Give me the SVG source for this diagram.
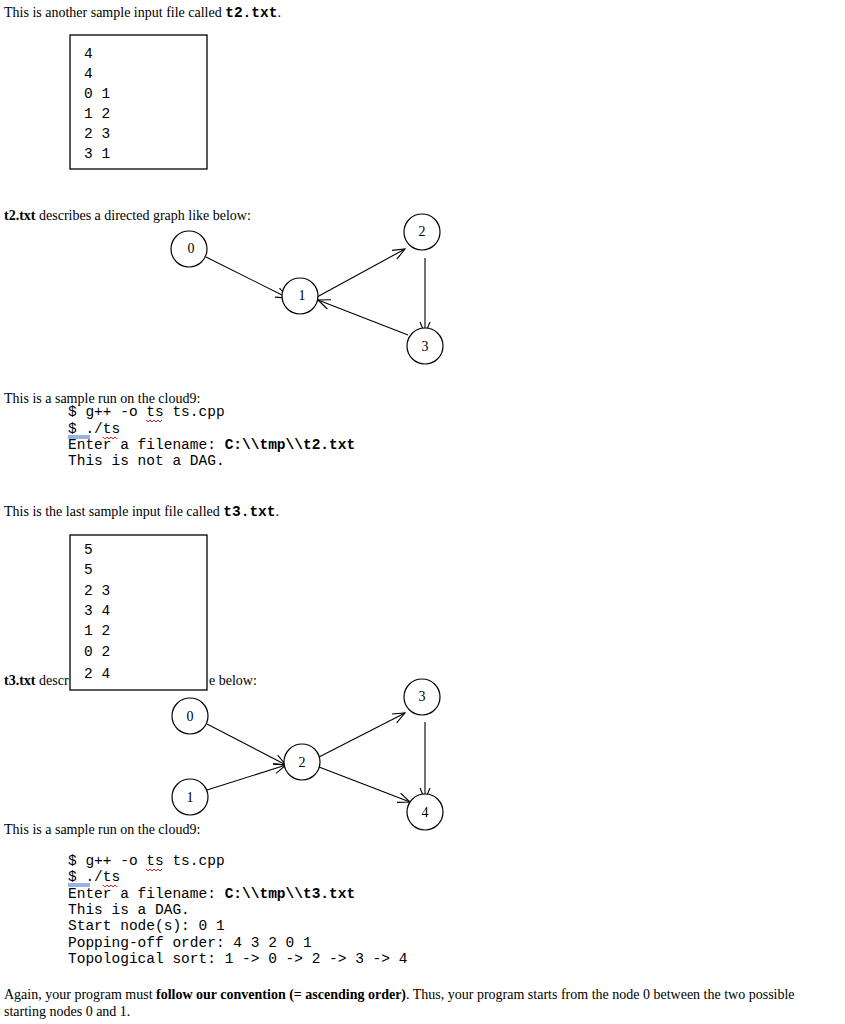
<svg xmlns="http://www.w3.org/2000/svg" width="845" height="1024" viewBox="0 0 845 1024">
<style>
.t{font-family:"Liberation Serif",serif;font-size:14px;fill:#000}
.m{font-family:"Liberation Mono",monospace;font-size:14.5px;fill:#000}
.n{font-family:"Liberation Serif",serif;font-size:14px;text-anchor:middle;fill:#000}
.b{font-weight:bold}
.box{fill:#fff;stroke:#000;stroke-width:1.3}
circle{fill:#fff;stroke:#000;stroke-width:1.2}
.e{stroke:#000;stroke-width:1.1;fill:none;marker-end:url(#a)}
.sq{stroke:#d22;fill:none;stroke-width:1}
</style>
<defs><marker id="a" markerWidth="14" markerHeight="12" refX="13" refY="6" orient="auto" markerUnits="userSpaceOnUse"><polyline points="1,1 13,6 1,11" fill="none" stroke="#000" stroke-width="1.1"/></marker></defs>
<rect width="845" height="1024" fill="#fff"/>
<text class="t" x="4" y="17">This is another sample input file called <tspan class="m b">t2.txt</tspan>.</text>
<g id="file1"><rect class="box" x="70" y="35" width="137" height="134"/>
<text class="m" x="84" y="58">4</text><text class="m" x="84" y="78">4</text><text class="m" x="84" y="98">0 1</text><text class="m" x="84" y="118">1 2</text><text class="m" x="84" y="138">2 3</text><text class="m" x="84" y="158">3 1</text></g>
<text class="t" x="4" y="220"><tspan class="b">t2.txt</tspan> describes a directed graph like below:</text>
<g id="edges1">
<line class="e" x1="206" y1="257" x2="288" y2="298"/>
<line class="e" x1="317" y1="297" x2="405" y2="249"/>
<line class="e" x1="425" y1="258" x2="425" y2="334"/>
<line class="e" x1="408" y1="335" x2="318" y2="300"/>
</g>
<g id="g1n0"><circle cx="189" cy="249" r="18"/><text class="n" x="191" y="253">0</text></g>
<g id="g1n1"><circle cx="300" cy="296" r="18"/><text class="n" x="302" y="300">1</text></g>
<g id="g1n2"><circle cx="422" cy="232" r="18"/><text class="n" x="422" y="236">2</text></g>
<g id="g1n3"><circle cx="425" cy="346" r="18"/><text class="n" x="425" y="351">3</text></g>
<text class="t" x="4" y="403">This is a sample run on the cloud9:</text>
<text class="m" x="68" y="416">$ g++ -o ts ts.cpp</text>
<path class="sq" d="M146,420 l2,2 2,-2 2,2 2,-2 2,2 2,-2 2,2 2,-2"/>
<text class="m" x="68" y="433">$ ./ts</text>
<line x1="68" y1="436" x2="90" y2="436" stroke="#36c" stroke-width="1"/><line x1="68" y1="438" x2="90" y2="438" stroke="#36c" stroke-width="1"/>
<path class="sq" d="M103,437 l2,2 2,-2 2,2 2,-2 2,2 2,-2 2,2"/>
<text class="m" x="68" y="449">Enter a filename: <tspan class="b">C:\\tmp\\t2.txt</tspan></text>
<text class="m" x="68" y="465">This is not a DAG.</text>
<text class="t" x="4" y="516">This is the last sample input file called <tspan class="m b">t3.txt</tspan>.</text>
<text class="t" x="4" y="685"><tspan class="b">t3.txt</tspan> descr</text>
<text class="t" x="209" y="685">e below:</text>
<g id="file2"><rect class="box" x="70" y="535" width="137" height="155"/>
<text class="m" x="84" y="554">5</text><text class="m" x="84" y="574">5</text><text class="m" x="84" y="595">2 3</text><text class="m" x="84" y="615">3 4</text><text class="m" x="84" y="635">1 2</text><text class="m" x="84" y="656">0 2</text><text class="m" x="84" y="678">2 4</text></g>
<g id="edges2">
<line class="e" x1="207" y1="724" x2="286" y2="765"/>
<line class="e" x1="207" y1="790" x2="286" y2="765"/>
<line class="e" x1="319" y1="757" x2="405" y2="713"/>
<line class="e" x1="319" y1="767" x2="410" y2="802"/>
<line class="e" x1="425" y1="722" x2="425" y2="800"/>
</g>
<g id="g2n0"><circle cx="190" cy="716" r="18"/><text class="n" x="190" y="721">0</text></g>
<g id="g2n1"><circle cx="190" cy="797" r="18"/><text class="n" x="190" y="802">1</text></g>
<g id="g2n2"><circle cx="302" cy="762" r="18"/><text class="n" x="302" y="767">2</text></g>
<g id="g2n3"><circle cx="422" cy="697" r="18"/><text class="n" x="422" y="701">3</text></g>
<g id="g2n4"><circle cx="425" cy="812" r="18"/><text class="n" x="425" y="817">4</text></g>
<text class="t" x="4" y="834">This is a sample run on the cloud9:</text>
<text class="m" x="68" y="865">$ g++ -o ts ts.cpp</text>
<path class="sq" d="M146,869 l2,2 2,-2 2,2 2,-2 2,2 2,-2 2,2 2,-2"/>
<text class="m" x="68" y="881">$ ./ts</text>
<line x1="68" y1="884" x2="90" y2="884" stroke="#36c" stroke-width="1"/><line x1="68" y1="886" x2="90" y2="886" stroke="#36c" stroke-width="1"/>
<path class="sq" d="M103,885 l2,2 2,-2 2,2 2,-2 2,2 2,-2 2,2"/>
<text class="m" x="68" y="898">Enter a filename: <tspan class="b">C:\\tmp\\t3.txt</tspan></text>
<text class="m" x="68" y="914">This is a DAG.</text>
<text class="m" x="68" y="930">Start node(s): 0 1</text>
<text class="m" x="68" y="947">Popping-off order: 4 3 2 0 1</text>
<text class="m" x="68" y="963">Topological sort: 1 -&gt; 0 -&gt; 2 -&gt; 3 -&gt; 4</text>
<text class="t" x="4" y="999">Again, your program must <tspan class="b">follow our convention (= ascending order)</tspan>. Thus, your program starts from the node 0 between the two possible</text>
<text class="t" x="4" y="1016">starting nodes 0 and 1.</text>
</svg>
